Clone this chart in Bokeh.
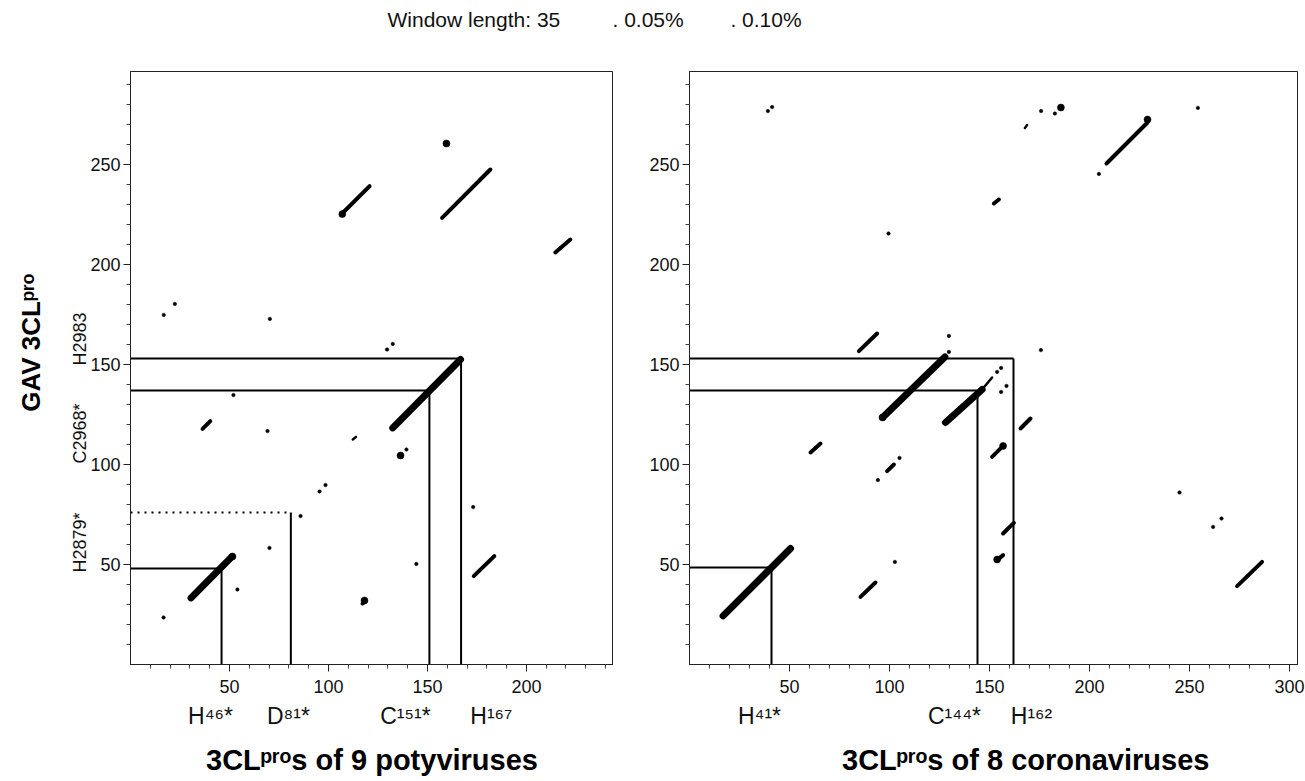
import math
from bokeh.plotting import figure
from bokeh.layouts import row
from bokeh.models import FixedTicker, Range1d, ColumnDataSource, LinearAxis
from bokeh.embed import file_html
from bokeh.resources import INLINE

# ---------------- data ----------------
# Left panel: GAV 3CLpro (y) against 3CLpros of 9 potyviruses (x)
poty_seg_x0 = [30.6, 132.5, 106.9, 157.4, 214.6, 36.4, 173.4, 117.2, 112.3]
poty_seg_y0 = [33.3, 118.3, 225.5, 223.3, 206.0, 117.8, 44.2, 30.5, 112.5]
poty_seg_x1 = [51.0, 166.7, 120.8, 181.8, 222.2, 40.3, 183.8, 118.9, 113.9]
poty_seg_y1 = [53.7, 152.5, 239.2, 247.5, 212.5, 121.7, 54.2, 31.9, 113.8]
poty_seg_level = ["strong", "strong", "mid", "mid", "mid", "mid", "mid", "mid", "weak"]

poty_dot_x = [159.6, 136.4, 51.5, 107.0, 118.2,
              16.8, 22.4, 70.4, 129.6, 132.5, 52.0, 69.2, 139.4, 95.5, 98.5,
              85.9, 70.2, 54.0, 16.7, 144.4, 173.1]
poty_dot_y = [260.5, 104.5, 54.0, 225.2, 32.0,
              174.8, 180.3, 172.8, 157.5, 160.3, 134.7, 116.7, 107.5, 86.5, 89.7,
              74.2, 58.3, 37.5, 23.5, 50.3, 78.7]
poty_dot_level = ["0.05%"] * 5 + ["0.10%"] * 16

poty_res_x = [46, 81, 151, 167]
poty_res_y = [48, 76, 137, 153]
poty_res_dash = ["solid", "dotted", "solid", "solid"]
poty_res_label = ["H\u2074\u2076*", "D\u2078\u00b9*", "C\u00b9\u2075\u00b9*", "H\u00b9\u2076\u2077"]
poty_res_label_at = [40.4, 79.8, 138.9, 182.3]

# Right panel: GAV 3CLpro (y) against 3CLpros of 8 coronaviruses (x)
cor_seg_x0 = [16.8, 96.8, 128.0, 146.3, 84.7, 60.5, 98.8, 151.3, 156.8, 153.8, 85.5, 165.5, 152.2, 208.5, 273.8, 167.7]
cor_seg_y0 = [24.3, 123.8, 121.0, 137.5, 156.7, 106.0, 96.7, 103.8, 65.5, 52.2, 33.8, 118.0, 230.5, 250.5, 39.2, 268.3]
cor_seg_x1 = [50.5, 127.7, 146.3, 151.3, 93.8, 65.5, 102.2, 156.8, 162.2, 156.8, 93.0, 170.5, 154.7, 229.0, 286.3, 168.8]
cor_seg_y1 = [58.0, 153.8, 137.5, 143.5, 165.5, 110.5, 100.0, 109.3, 70.8, 54.7, 41.0, 123.0, 232.5, 271.0, 51.3, 269.7]
cor_seg_level = ["strong", "strong", "strong", "weak", "mid", "mid", "mid", "mid", "mid",
                 "mid", "mid", "mid", "mid", "mid", "mid", "weak"]

cor_dot_x = [185.7, 229.0, 96.5, 156.8, 153.8,
             39.2, 41.3, 99.5, 175.8, 182.7, 204.7, 254.2, 129.7, 129.7, 153.8,
             155.8, 155.8, 158.5, 175.7, 94.2, 105.0, 102.7, 245.0, 261.8, 266.0]
cor_dot_y = [278.5, 272.5, 123.5, 109.3, 52.5,
             276.7, 278.7, 215.5, 276.7, 275.5, 245.3, 278.3, 164.3, 156.3, 146.3,
             148.3, 136.3, 139.3, 157.2, 92.2, 103.3, 51.3, 86.0, 68.8, 73.0]
cor_dot_level = ["0.05%"] * 5 + ["0.10%"] * 20

cor_res_x = [41, 144, 162]
cor_res_y = [48.5, 137, 153]
cor_res_dash = ["solid", "solid", "solid"]
cor_res_label = ["H\u2074\u00b9*", "C\u00b9\u2074\u2074*", "H\u00b9\u2076\u00b2"]
cor_res_label_at = [35.0, 132.5, 171.0]

gav_res_label = ["H2879*", "C2968*", "H2983"]
gav_res_label_at = [76.0, 130.5, 176.0]

x_major_left = [50, 100, 150, 200]
x_major_right = [50, 100, 150, 200, 250, 300]
y_major = [50, 100, 150, 200, 250]

title_left = "3CL\u1d56\u02b3\u1d52s of 9 potyviruses"
title_right = "\u00a0" * 8 + "3CL\u1d56\u02b3\u1d52s of 8 coronaviruses"
title_y = "\u00a0" * 7 + "GAV 3CL\u1d56\u02b3\u1d52"
header_left = "Window length: 35"
header_right = ".\u00a00.05%" + "\u00a0" * 8 + ".\u00a00.10%"

# ---------------- styles ----------------
FONT = "Liberation Sans"
SEG_W = {"strong": 7.0, "mid": 4.0, "weak": 2.5}
DOT_S = {"0.05%": 7, "0.10%": 3.5}


def make_fig(xmax, xmaj, border_left, border_right, fw, header, header_offset):
    p = figure(frame_width=fw, frame_height=593, x_range=Range1d(0, xmax),
               y_range=Range1d(0, 296.5), min_border_left=border_left,
               min_border_right=border_right, min_border_top=71, min_border_bottom=112,
               toolbar_location=None, output_backend="svg",
               background_fill_color="white", border_fill_color="white",
               title=header + "\n\u00a0")
    p.title.text_font = FONT
    p.title.text_font_size = "21px"
    p.title.text_font_style = "normal"
    p.title.text_line_height = 1.55
    p.title.align = "left"
    p.title.offset = header_offset
    p.title.text_color = "#111111"
    p.xgrid.visible = False
    p.ygrid.visible = False
    p.outline_line_color = "#222222"
    p.outline_line_width = 1
    p.xaxis.ticker = FixedTicker(ticks=xmaj, minor_ticks=[v for v in range(10, int(xmax) + 1, 10) if v not in xmaj])
    p.yaxis.ticker = FixedTicker(ticks=y_major, minor_ticks=[v for v in range(10, 296, 10) if v not in y_major])
    for ax in (p.xaxis[0], p.yaxis[0]):
        ax.major_tick_in = 0
        ax.major_tick_out = 7
        ax.minor_tick_in = 0
        ax.minor_tick_out = 4
        ax.axis_line_color = "#222222"
        ax.major_tick_line_color = "#222222"
        ax.minor_tick_line_color = "#444444"
        ax.major_label_text_font = FONT
        ax.major_label_text_font_size = "18px"
        ax.major_label_text_color = "#111111"
    p.xaxis.major_label_standoff = 8
    p.yaxis.major_label_standoff = 3
    return p


def text_axis(ticks, labels, size, orientation, title, standoff, title_standoff, title_size):
    ax = LinearAxis(ticker=FixedTicker(ticks=ticks),
                    major_label_overrides={t: l for t, l in zip(ticks, labels)},
                    major_tick_in=0, major_tick_out=0, minor_tick_in=0, minor_tick_out=0,
                    axis_line_color=None, major_label_standoff=standoff,
                    major_label_text_font=FONT, major_label_text_font_size=size,
                    major_label_text_color="#111111",
                    major_label_orientation=orientation,
                    axis_label=title, axis_label_standoff=title_standoff,
                    axis_label_text_font=FONT, axis_label_text_font_size=title_size,
                    axis_label_text_font_style="bold", axis_label_text_color="black")
    return ax


def draw_panel(p, sx0, sy0, sx1, sy1, slev, dx, dy, dlev, rx, ry, rdash):
    src = ColumnDataSource(dict(x0=sx0, y0=sy0, x1=sx1, y1=sy1,
                                w=[SEG_W[l] for l in slev]))
    p.segment(x0="x0", y0="y0", x1="x1", y1="y1", line_width="w", line_color="black",
              line_cap="round", source=src)
    dsrc = ColumnDataSource(dict(x=dx, y=dy, s=[DOT_S[l] for l in dlev]))
    p.scatter(x="x", y="y", size="s", marker="circle", fill_color="black",
              line_color="black", line_width=0.5, source=dsrc)
    for x, y, d in zip(rx, ry, rdash):
        p.line([0, x], [y, y], line_color="black", line_width=2,
               line_dash="2 5" if d == "dotted" else "solid")
        p.line([x, x], [0, y], line_color="black", line_width=2)


# ---------------- figures ----------------
left = make_fig(244, x_major_left, 130, 0, 483, header_left, 257)
right = make_fig(304, x_major_right, 76, 8, 608, header_right, -77)

draw_panel(left, poty_seg_x0, poty_seg_y0, poty_seg_x1, poty_seg_y1, poty_seg_level,
           poty_dot_x, poty_dot_y, poty_dot_level, poty_res_x, poty_res_y, poty_res_dash)
draw_panel(right, cor_seg_x0, cor_seg_y0, cor_seg_x1, cor_seg_y1, cor_seg_level,
           cor_dot_x, cor_dot_y, cor_dot_level, cor_res_x, cor_res_y, cor_res_dash)

left.add_layout(text_axis(poty_res_label_at, poty_res_label, "23px", "horizontal",
                          title_left, 7, 12, "29px"), "below")
right.add_layout(text_axis(cor_res_label_at, cor_res_label, "23px", "horizontal",
                           title_right, 7, 12, "29px"), "below")
left.add_layout(text_axis(gav_res_label_at, gav_res_label, "18px", math.pi / 2,
                          title_y, 8, 11, "26px"), "left")

layout = row(left, right)
open("out.html", "w").write(file_html(layout, INLINE))
